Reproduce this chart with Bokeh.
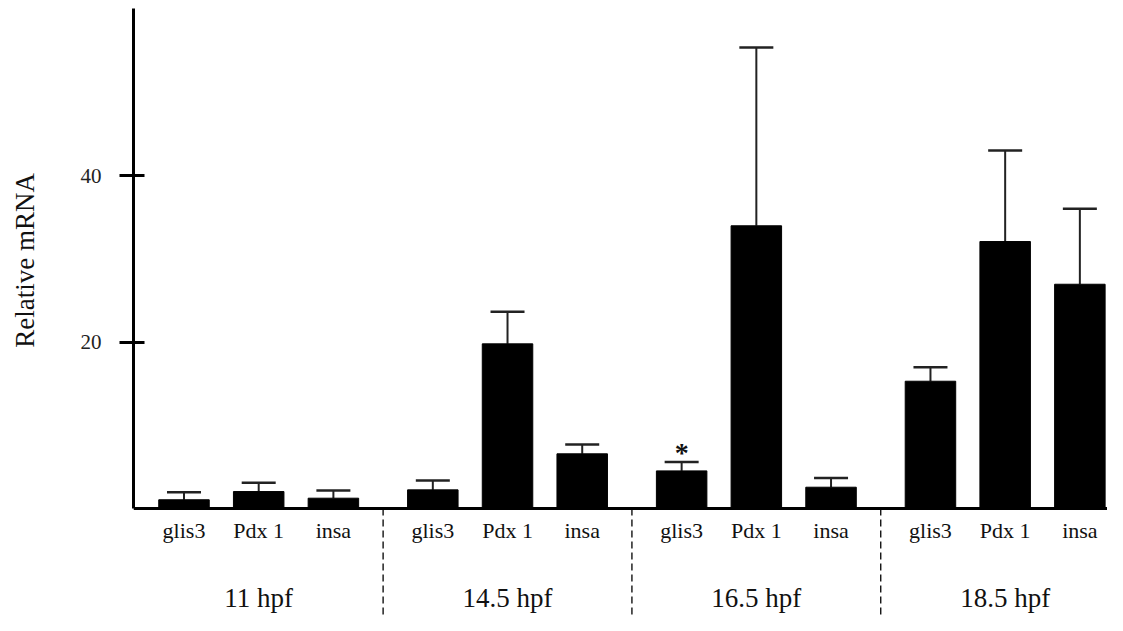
import math
from bokeh.plotting import figure
from bokeh.layouts import row
from bokeh.models import ColumnDataSource, Range1d, FixedTicker, Span, Whisker, TeeHead
from bokeh.core.properties import value
from bokeh.embed import file_html
from bokeh.resources import INLINE

# ---- data ----
groups = ["11 hpf", "14.5 hpf", "16.5 hpf", "18.5 hpf"]
genes = ["glis3", "Pdx 1", "insa"]
glis3_mean = [1.05, 2.24, 4.52, 15.29]
pdx1_mean = [2.04, 19.78, 33.96, 32.07]
insa_mean = [1.24, 6.57, 2.56, 26.94]
glis3_err = [0.91, 1.12, 1.08, 1.68]
pdx1_err = [1.06, 3.85, 21.42, 10.93]
insa_err = [0.92, 1.12, 1.12, 9.06]
significant = [("16.5 hpf", "glis3")]
y_ticks = [20, 40]
y_title = "Relative mRNA"

# ---- layout helpers ----
GAP = 0.331          # extra space between groups (in bar-slot units)
BAR_W = 0.676
FONT = "Liberation Serif"
TITLE_W = 60         # width of the narrow strip holding the y title

means = {"glis3": glis3_mean, "Pdx 1": pdx1_mean, "insa": insa_mean}
errs = {"glis3": glis3_err, "Pdx 1": pdx1_err, "insa": insa_err}

xs, tops, ups, labels = [], [], [], []
pos_of = {}
for gi, g in enumerate(groups):
    for ji, gene in enumerate(genes):
        x = gi * (len(genes) + GAP) + ji
        pos_of[(g, gene)] = x
        xs.append(x)
        tops.append(means[gene][gi])
        ups.append(means[gene][gi] + errs[gene][gi])
        labels.append(gene)

src = ColumnDataSource(dict(x=xs, top=tops, upper=ups, label=labels))

group_centers = [gi * (len(genes) + GAP) + (len(genes) - 1) / 2 for gi in range(len(groups))]
separators = [gi * (len(genes) + GAP) - (1 + GAP) / 2 for gi in range(1, len(groups))]

y_top = 60.06
y_bot = -12.85
x_start = -0.676
x_end = 12.363

p = figure(width=1107 - TITLE_W, height=615, output_backend="svg", toolbar_location=None,
           x_axis_type=None, x_range=Range1d(x_start, x_end), y_range=Range1d(y_bot, y_top),
           min_border_left=133 - TITLE_W, min_border_right=0, min_border_top=8, min_border_bottom=0)
p.outline_line_color = None
p.grid.visible = False
p.background_fill_color = "white"

# bars
p.vbar(x="x", top="top", bottom=0, width=BAR_W, source=src, fill_color="black", line_color="black")

# error bars (upper only)
w = Whisker(base="x", lower="top", upper="upper", source=src, dimension="height",
            line_color="#222222", line_width=2,
            upper_head=TeeHead(size=34, line_color="#222222", line_width=2.5), lower_head=None)
p.add_layout(w)

# x axis line at zero
p.add_layout(Span(location=0, dimension="width", line_color="black", line_width=3))

# dashed group separators below axis
p.segment(x0=separators, y0=[0] * len(separators), x1=separators, y1=[y_bot] * len(separators),
          line_color="black", line_width=1.3, line_dash="7 4")

# gene labels
p.text(x="x", y=0, text="label", source=src, y_offset=22, text_align="center",
       text_baseline="alphabetic", text_font=value(FONT), text_font_size="22px", text_color="#111111")

# group labels
p.text(x=group_centers, y=[0] * len(groups), text=groups, y_offset=89, text_align="center",
       text_baseline="alphabetic", text_font=value(FONT), text_font_size="27px", text_color="#111111")

# significance marker
sx = [pos_of[s] for s in significant]
sy = [means[s[1]][groups.index(s[0])] + errs[s[1]][groups.index(s[0])] for s in significant]
p.text(x=sx, y=sy, text=["*"] * len(sx), y_offset=-9, text_align="center", text_baseline="alphabetic",
       text_font=value(FONT), text_font_size="28px", text_color="#111111", text_font_style="bold")

# y axis
ya = p.yaxis[0]
ya.bounds = (0, y_top)
ya.ticker = FixedTicker(ticks=y_ticks)
ya.minor_tick_line_color = None
ya.axis_line_width = 3
ya.axis_line_color = "black"
ya.major_tick_line_width = 3
ya.major_tick_line_color = "black"
ya.major_tick_in = 11
ya.major_tick_out = 14
ya.major_label_standoff = 18
ya.major_label_text_font = FONT
ya.major_label_text_font_size = "21px"
ya.major_label_text_color = "#222222"

# narrow strip on the left carrying the y-axis title (positioned like the reference)
t = figure(width=TITLE_W, height=615, output_backend="svg", toolbar_location=None,
           x_axis_type=None, y_axis_type=None, x_range=Range1d(0, 1), y_range=Range1d(y_bot, y_top),
           min_border_left=0, min_border_right=0, min_border_top=8, min_border_bottom=0)
t.outline_line_color = None
t.grid.visible = False
t.text(x=[0.4], y=[29.8], text=[y_title], angle=math.pi / 2, text_align="center",
       text_baseline="middle", text_font=value(FONT), text_font_size="27px", text_color="#111111")

layout = row(t, p, spacing=0)
open("out.html", "w").write(file_html(layout, INLINE))
